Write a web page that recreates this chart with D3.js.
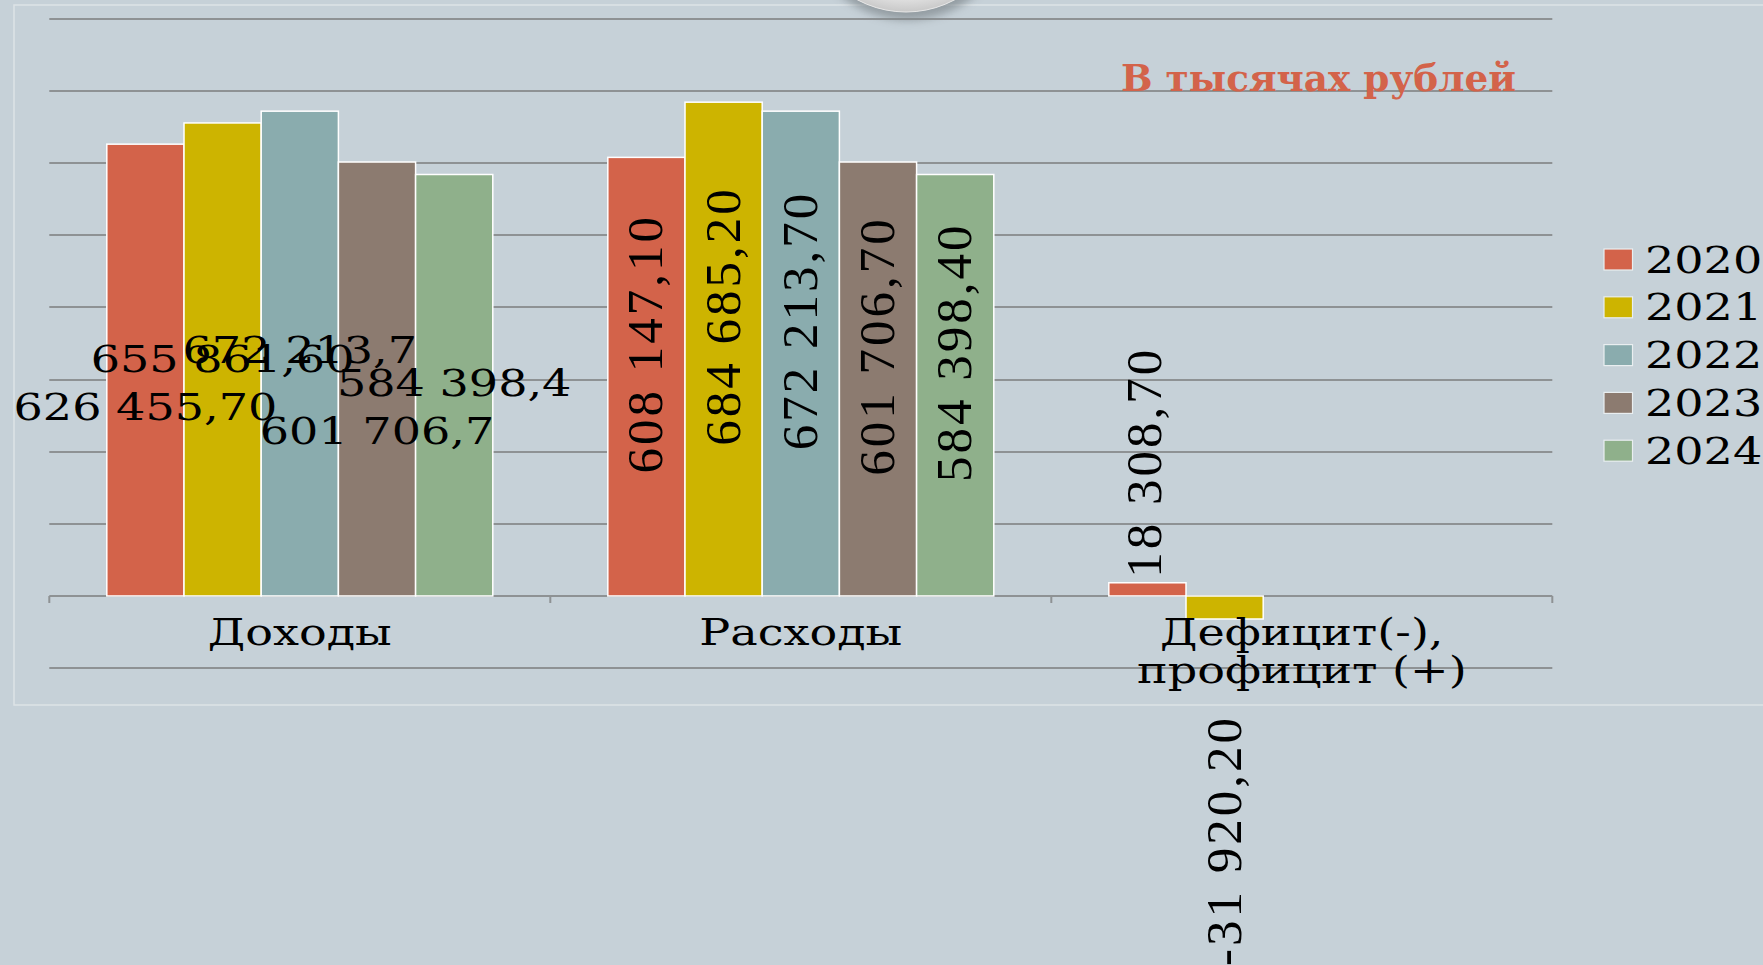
<!DOCTYPE html>
<html><head><meta charset="utf-8">
<script src="https://cdn.jsdelivr.net/npm/d3@7"></script>
<style>
html,body{margin:0;padding:0;background:#C6D1D8;overflow:hidden;}
svg{display:block;}
</style></head>
<body>
<svg id="c" width="1763" height="965"></svg>
<script>
const categories = ["Доходы", "Расходы", "Дефицит(-),\nпрофицит (+)"];
const years = ["2020", "2021", "2022", "2023", "2024"];
const v2020 = [626455.7, 608147.1, 18308.7];
const v2021 = [655861.6, 684685.2, -31920.2];
const v2022 = [672213.7, 672213.7, null];
const v2023 = [601706.7, 601706.7, null];
const v2024 = [584398.4, 584398.4, null];
const labels2020 = ["626 455,70", "608 147,10", "18 308,70"];
const labels2021 = ["655 861,60", "684 685,20", "-31 920,20"];
const labels2022 = ["672 213,7", "672 213,70", ""];
const labels2023 = ["601 706,7", "601 706,70", ""];
const labels2024 = ["584 398,4", "584 398,40", ""];
const unitTitle = "В тысячах рублей";
const colors = ["#D3634A", "#CDB400", "#8AACAE", "#8C7B70", "#8FB08B"];

const seriesValues = [v2020, v2021, v2022, v2023, v2024];
const seriesLabels = [labels2020, labels2021, labels2022, labels2023, labels2024];

const svg = d3.select("#c");
const defs = svg.append("defs");
const rg = defs.append("radialGradient").attr("id","knob").attr("cx","50%").attr("cy","40%").attr("r","60%");
rg.append("stop").attr("offset","0%").attr("stop-color","#ffffff");
rg.append("stop").attr("offset","80%").attr("stop-color","#f4f4f4");
rg.append("stop").attr("offset","100%").attr("stop-color","#c8c8c8");
const blur = defs.append("filter").attr("id","sh").attr("x","-30%").attr("y","-30%").attr("width","160%").attr("height","160%");
blur.append("feGaussianBlur").attr("stdDeviation", 4);

const WIDEN = 1.245; // serif text in the source is drawn horizontally wider
function widen(sel) {
  sel.each(function() {
    const w = this.getComputedTextLength();
    d3.select(this).attr("textLength", w * WIDEN).attr("lengthAdjust", "spacingAndGlyphs");
  });
  return sel;
}

// frame
svg.append("rect").attr("x",14).attr("y",5).attr("width",1800).attr("height",700)
  .attr("fill","none").attr("stroke","#dde3e6").attr("stroke-width",1.5);

const left = 49.3, right = 1552.3;
const x0 = d3.scaleBand().domain(categories).range([left, right]).paddingInner(0).paddingOuter(0);
const x1 = d3.scaleBand().domain(years).range([0, x0.bandwidth()]).paddingInner(0).paddingOuter(0.745);
const y = d3.scaleLinear().domain([-100000, 800000]).range([668.1, 19]);

// gridlines
const g = svg.append("g");
g.selectAll("line.grid").data(y.ticks(9)).enter().append("line")
  .attr("x1", left).attr("x2", right)
  .attr("y1", d => Math.round(y(d))).attr("y2", d => Math.round(y(d)))
  .attr("stroke", "#8e9294").attr("stroke-width", 2);

// axis ticks at category boundaries
const bounds = categories.map(c => x0(c)).concat([x0(categories[categories.length-1]) + x0.bandwidth()]);
g.selectAll("line.tk").data(bounds).enter().append("line")
  .attr("x1", d => d).attr("x2", d => d)
  .attr("y1", y(0)).attr("y2", y(0) + 7)
  .attr("stroke", "#8e9294").attr("stroke-width", 2);

// decorative knob at top
svg.append("ellipse").attr("cx", 908).attr("cy", -84).attr("rx", 104).attr("ry", 104)
  .attr("fill", "#7f878c").attr("opacity", 0.7).attr("filter","url(#sh)");
svg.append("circle").attr("cx", 906).attr("cy", -91).attr("r", 103)
  .attr("fill", "url(#knob)").attr("stroke","#e8e8e8").attr("stroke-width",1);

// bars
const barsG = svg.append("g");
seriesValues.forEach((vals, si) => {
  barsG.selectAll(null).data(categories.map((c, ci) => ({c, v: vals[ci]})).filter(d => d.v !== null))
    .enter().append("rect")
    .attr("x", d => x0(d.c) + x1(years[si]))
    .attr("width", x1.bandwidth())
    .attr("y", d => y(Math.max(0, d.v)))
    .attr("height", d => Math.abs(y(d.v) - y(0)))
    .attr("fill", colors[si])
    .attr("stroke", "#ffffff").attr("stroke-width", 1.5);
});

// category labels
const catG = svg.append("g");
categories.forEach(c => {
  const lines = c.split("\n");
  lines.forEach((l, i) => {
    widen(catG.append("text")
      .attr("x", x0(c) + x0.bandwidth()/2)
      .attr("y", 645 + i * 38)
      .attr("text-anchor","middle")
      .attr("font-family","'DejaVu Serif', serif")
      .attr("font-size", 37)
      .attr("fill","#000").text(l));
  });
});

// data labels: Доходы (horizontal, centred on bar, hand-placed vertically)
const incomeShift = [50, 13, 9, 65, 11];
const lblG = svg.append("g");
seriesValues.forEach((vals, si) => {
  const c = categories[0];
  const v = vals[0];
  const mid = (y(v) + y(0)) / 2;
  widen(lblG.append("text")
    .attr("x", x0(c) + x1(years[si]) + x1.bandwidth()/2)
    .attr("y", mid + incomeShift[si])
    .attr("text-anchor","middle")
    .attr("font-family","'DejaVu Serif', serif")
    .attr("font-size", 37)
    .attr("fill","#000")
    .text(seriesLabels[si][0]));
});

// rotated data labels
function vlabel(cx, cy, txt, anchor) {
  lblG.append("text")
    .attr("transform", `translate(${cx},${cy}) rotate(-90)`)
    .attr("text-anchor", anchor)
    .attr("dominant-baseline","central")
    .attr("font-family","'Liberation Serif', serif")
    .attr("font-size", 51)
    .attr("letter-spacing", 3)
    .attr("fill","#000")
    .text(txt);
}
seriesValues.forEach((vals, si) => {
  const c = categories[1];
  const v = vals[1];
  const mid = (y(v) + y(0)) / 2 - 33;
  vlabel(x0(c) + x1(years[si]) + x1.bandwidth()/2 - 1, mid, seriesLabels[si][1], "middle");
});
{
  const c = categories[2];
  const v0 = seriesValues[0][2];
  vlabel(x0(c) + x1(years[0]) + x1.bandwidth()/2 - 3, y(v0) - 5, seriesLabels[0][2], "start");
  const v1 = seriesValues[1][2];
  vlabel(x0(c) + x1(years[1]) + x1.bandwidth()/2 - 1, y(v1) + 96, seriesLabels[1][2], "end");
}

// unit title
svg.append("text").attr("x", 1121).attr("y", 91)
  .attr("font-family","'DejaVu Serif Condensed','DejaVu Serif', serif")
  .attr("font-weight","bold").attr("font-size", 38)
  .attr("textLength", 395).attr("lengthAdjust","spacingAndGlyphs")
  .attr("fill","#D3634A").text(unitTitle);

// legend
const lg = svg.append("g");
years.forEach((yr, i) => {
  const cy = 259.5 + i * 47.8;
  lg.append("rect").attr("x", 1604).attr("y", cy - 10.5).attr("width", 28.5).attr("height", 21)
    .attr("fill", colors[i]).attr("stroke","#e9eef0").attr("stroke-width",1.2);
  widen(lg.append("text").attr("x", 1645).attr("y", cy + 13)
    .attr("font-family","'DejaVu Serif', serif")
    .attr("font-size", 37)
    .attr("fill","#000").text(yr));
});
</script>
</body></html>
